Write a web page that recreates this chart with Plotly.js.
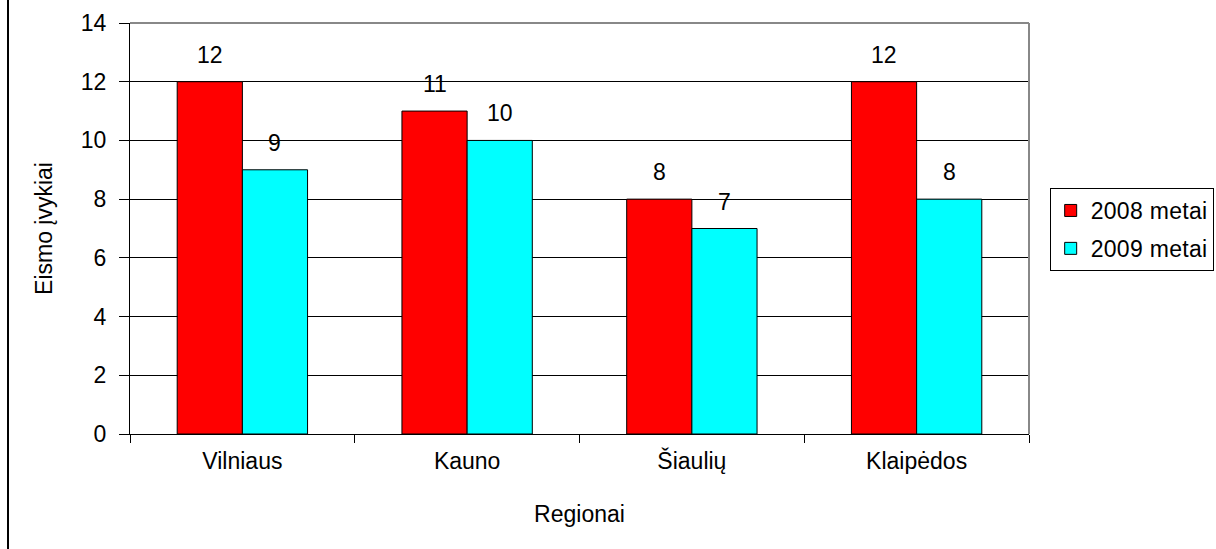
<!DOCTYPE html>
<html>
<head>
<meta charset="utf-8">
<script src="https://cdn.plot.ly/plotly-3.0.1.min.js"></script>
<style>
  html, body { margin: 0; padding: 0; background: #fff; }
  #chart { width: 1216px; height: 549px; }
  .legendtext { letter-spacing: 0.3px; }
</style>
</head>
<body>
<div id="chart"></div>
<script>
// Regions and yearly counts of traffic incidents
const regions = ['Vilniaus', 'Kauno', 'Šiaulių', 'Klaipėdos'];
const values2008 = [12, 11, 8, 12];
const values2009 = [9, 10, 7, 8];
const seriesNames = ['2008 metai', '2009 metai'];
const yTicks = [0, 2, 4, 6, 8, 10, 12, 14];

const FONT = 'Liberation Sans, Arial, sans-serif';
const FS = 23;
const barColors = ['#ff0000', '#00ffff'];

const traces = [values2008, values2009].map((vals, i) => ({
  type: 'bar',
  name: seriesNames[i],
  legendgroup: 'g' + i,
  x: regions,
  y: vals,
  marker: { color: barColors[i], line: { color: '#000', width: 1 } },
  hoverinfo: 'x+y+name'
}));

// Value labels above each bar
const barHalf = 32.6;
const annotations = [];
[values2008, values2009].forEach((vals, i) => {
  vals.forEach((v, j) => {
    annotations.push({
      x: regions[j], y: v, xref: 'x', yref: 'y',
      text: String(v), showarrow: false,
      xshift: i === 0 ? -barHalf : barHalf,
      yanchor: 'bottom', yshift: 12,
      font: { family: FONT, size: FS, color: '#000' }
    });
  });
});

const layout = {
  width: 1216, height: 549,
  margin: { l: 130, r: 187, t: 23, b: 115, autoexpand: false },
  paper_bgcolor: '#fff', plot_bgcolor: '#fff',
  barmode: 'group', bargap: 0.42, bargroupgap: 0,
  font: { family: FONT, size: FS, color: '#000' },
  showlegend: true,
  legend: {
    x: 1.023, xanchor: 'left', y: 0.5985, yanchor: 'top',
    bordercolor: '#000', borderwidth: 1, bgcolor: '#fff',
    font: { family: FONT, size: FS, color: '#000' },
    traceorder: 'grouped', tracegroupgap: 5, itemwidth: 30
  },
  xaxis: {
    type: 'category',
    tickson: 'boundaries', ticks: 'outside', ticklen: 8, tickcolor: '#000', tickwidth: 1,
    ticklabelstandoff: 6,
    showline: true, linecolor: '#000', linewidth: 1,
    showgrid: false, zeroline: false,
    tickfont: { family: FONT, size: FS, color: '#000' },
    title: { text: 'Regionai', font: { family: FONT, size: FS, color: '#000' }, standoff: 33 }
  },
  yaxis: {
    range: [0, 14], tickvals: yTicks, ticktext: yTicks.map(String),
    ticks: 'outside', ticklen: 10, tickcolor: '#000', tickwidth: 1,
    ticklabelstandoff: 8,
    showline: true, linecolor: '#000', linewidth: 1,
    showgrid: true, gridcolor: '#000', gridwidth: 1, zeroline: false,
    tickfont: { family: FONT, size: FS, color: '#000' },
    title: { text: 'Eismo įvykiai', font: { family: FONT, size: FS, color: '#000' }, standoff: 21 }
  },
  annotations: annotations,
  shapes: [
    // gray frame on top and right of plot area
    { type: 'line', xref: 'paper', yref: 'paper', x0: 0, x1: 1, y0: 1, y1: 1,
      line: { color: '#888', width: 2 }, layer: 'above' },
    { type: 'line', xref: 'paper', yref: 'paper', x0: 1, x1: 1, y0: 0, y1: 1,
      line: { color: '#888', width: 2 }, layer: 'above' },
    // chart area left border
    { type: 'line', xref: 'paper', yref: 'paper', x0: -0.1357, x1: -0.1357, y0: -0.3, y1: 1.1,
      line: { color: '#000', width: 2 } }
  ]
};

Plotly.newPlot('chart', traces, layout, { displayModeBar: false, staticPlot: true });
</script>
</body>
</html>
